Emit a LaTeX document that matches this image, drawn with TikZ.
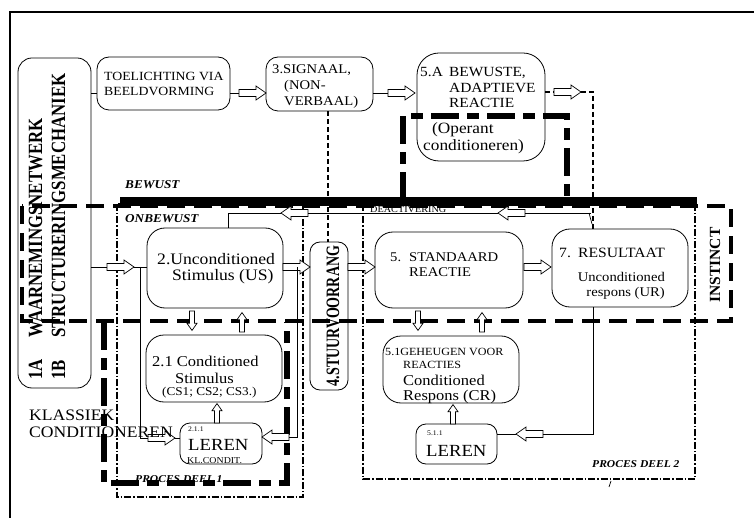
\documentclass[tikz,border=0pt]{standalone}
\usepackage{fontspec}
\setmainfont{Liberation Serif}[FakeStretch=1.1]
\newfontfamily\rotfont{Liberation Serif}
\newcommand{\fsz}[1]{\fontsize{#1}{#1}\selectfont}
\begin{document}
\begin{tikzpicture}[x=1pt,y=-1pt,
  box/.style={draw, line width=0.8pt, inner sep=0pt, rounded corners=#1},
  box/.default=16pt,
  txt/.style={inner sep=0pt, anchor=base west},
  rtxt/.style={inner sep=0pt, anchor=base east},
  vtxt/.style={inner sep=0pt, anchor=base west, rotate=90},
  conn/.style={line width=0.7pt},
  thindash/.style={line width=1.3pt, dash pattern=on 5pt off 3pt},
  dashdot/.style={line width=1.1pt, dash pattern=on 7pt off 2pt on 1.5pt off 2pt},
  bigdash/.style={line width=4pt, dash pattern=on 18pt off 9pt},
  heavydash/.style={line width=6pt, dash pattern=on 28pt off 8pt on 12pt off 8pt},
  hollow/.pic={
    \draw[line width=0.7pt, fill=white]
      (0,-3.5) -- (17,-3.5) -- (17,-7) -- (27,0) -- (17,7) -- (17,3.5) -- (0,3.5) -- cycle;
    \coordinate (-tail) at (0,0);
    \coordinate (-tip) at (27,0);
  },
  small/.style={scale=0.72},
]
\useasboundingbox (0,0) rectangle (754,518);

% outer frame
\draw[line width=2pt] (10,518) -- (10,12) -- (754,12);

% boxes
\node[box=14pt, minimum width=73pt, minimum height=330pt] (L) at (54.5,223) {};
\node[box=12pt, minimum width=133pt, minimum height=53pt] (B2) at (163.5,83.5) {};
\node[box=12pt, minimum width=107pt, minimum height=54pt] (B3) at (319.5,84) {};
\node[box=22pt, minimum width=128pt, minimum height=108pt] (B5A) at (481,107) {};
\node[box=18pt, minimum width=136pt, minimum height=80pt] (US) at (215,268) {};
\node[box=18pt, minimum width=136pt, minimum height=67pt] (CS) at (214,368.5) {};
\node[box=10pt, minimum width=82pt, minimum height=41pt] (LR1) at (221,443.5) {};
\node[box=10pt, minimum width=38pt, minimum height=148pt] (ST) at (329,316) {};
\node[box=18pt, minimum width=148pt, minimum height=76pt] (STD) at (449,270) {};
\node[box=18pt, minimum width=136pt, minimum height=78pt] (RES) at (620,268) {};
\node[box=18pt, minimum width=136pt, minimum height=67pt] (GEH) at (451,369.5) {};
\node[box=10pt, minimum width=81pt, minimum height=40pt] (LR2) at (456.5,444) {};

% process areas
\draw[dashdot] (117,204) rectangle (303,497);
\draw[dashdot] (363,204) rectangle (695,479);
\draw[conn] (589,213) -- (592,224);
\draw[conn] (611,481) -- (609,487);

% instinct area and the conscious / unconscious border
\draw[bigdash] (22,206) rectangle (731,321);
\fill (120,197) rectangle (697,206);

% heavy dashed groupings
\draw[heavydash] (104,322) -- (104,483) -- (287,483) -- (287,322);
\draw[heavydash] (403,200) -- (403,116) -- (567,116) -- (567,200);

% signal to priority
\draw[thindash] (328,0 |- B3.south) -- (328,0 |- ST.north);

% top row
\draw[conn] (L.east |- 0,93) -- (B2.west |- 0,93);
\pic (a2) at (239,93) {hollow};
\draw[conn] (B2.east |- a2-tail) -- (a2-tail);
\pic (a3) at (388,93) {hollow};
\draw[conn] (B3.east |- a3-tail) -- (a3-tail);
\pic (a4) at (554,92) {hollow};
\draw[thindash] (B5A.east |- a4-tail) -- (a4-tail);
\draw[thindash] (a4-tip) -- (593,0 |- a4-tip) -- (593,0 |- RES.north);

% deactivation feedback
\pic[rotate=180] (a11) at (525,213) {hollow};
\pic[rotate=180] (a12) at (308,213) {hollow};
\draw[conn] (591,213) -- (a11-tail);
\draw[conn] (a11-tip) -- (a12-tail);
\draw[conn] (a12-tip) -- (228,213) -- (228,0 |- US.north);

% perception to unconditioned stimulus
\pic (a13) at (107,267) {hollow};
\draw[conn] (L.east |- a13-tail) -- (a13-tail);
\draw[conn] (a13-tip) -- (US.west |- a13-tip);
\pic (a14) at (148,438) {hollow};
\draw[conn] (140,267) -- (140,438) -- (a14-tail);
\draw[conn] (a14-tip) -- (LR1.west |- a14-tip);

% main chain
\pic (a15) at (283,267) {hollow};
\pic[rotate=180] (a16) at (289,437) {hollow};
\draw[conn] (297,267) -- (297,437) -- (a16-tail);
\pic (a17) at (348,267) {hollow};
\pic (a18) at (524,267) {hollow};

% result back to learning
\pic[rotate=180] (a19) at (543,434) {hollow};
\draw[conn] (593,0 |- RES.south) -- (593,434) -- (a19-tail);
\draw[conn] (a19-tip) -- (LR2.east |- a19-tip);

% small vertical arrows
\pic[rotate=-90, small] (d1) at (192,311) {hollow};
\pic[rotate=90, small] (u1) at (242,332) {hollow};
\pic[rotate=90, small] (u2) at (217,423) {hollow};
\pic[rotate=-90, small] (d2) at (418,311) {hollow};
\pic[rotate=90, small] (u3) at (482,332) {hollow};
\pic[rotate=90, small] (u4) at (453,424) {hollow};

% texts
\node[vtxt, font=\rotfont\fsz{16.8}\bfseries] (t1a) at (42,380) {\scalebox{1}[1.2]{1A}};
\node[vtxt, font=\rotfont\fsz{16.8}\bfseries] (t1an) at (42,338) {\scalebox{1}[1.2]{WAARNEMINGSNETWERK}};
\node[vtxt, font=\rotfont\fsz{16.8}\bfseries] (t1b) at (65,380) {\scalebox{1}[1.2]{1B}};
\node[vtxt, font=\rotfont\fsz{16.8}\bfseries] (t1bn) at (65,338) {\scalebox{1}[1.2]{STRUCTURERINGSMECHANIEK}};

\node[txt, font=\fsz{12.5}] (tb2a) at (104,81) {TOELICHTING VIA};
\node[txt, font=\fsz{12.5}] (tb2b) at (104,96) {BEELDVORMING};
\node[txt, font=\fsz{13.3}] (tb3a) at (272,74) {3.SIGNAAL,};
\node[txt, font=\fsz{13.3}] (tb3b) at (284,90) {(NON-};
\node[txt, font=\fsz{13.3}] (tb3c) at (284,106) {VERBAAL)};
\node[txt, font=\fsz{14}] (tb5n) at (420,77) {5.A};
\node[txt, font=\fsz{14}] (tb5a) at (449,77) {BEWUSTE,};
\node[txt, font=\fsz{14}] (tb5b) at (449,93) {ADAPTIEVE};
\node[txt, font=\fsz{14}] (tb5c) at (449,108) {REACTIE};
\node[txt, font=\fsz{15.7}] (tb5d) at (432,134) {(Operant};
\node[txt, font=\fsz{15.7}] (tb5e) at (423,151) {conditioneren)};

\node[txt, font=\fsz{12}\bfseries\itshape] (tbw) at (125,189) {BEWUST};
\node[txt, font=\fsz{12}\bfseries\itshape] (tonb) at (125,223) {ONBEWUST};
\node[txt, font=\fsz{9.3}] (tdeac) at (370,213) {DEACTIVERING};

\node[txt, font=\fsz{16}] (tusa) at (157,265) {2.Unconditioned};
\node[txt, font=\fsz{16}] (tusb) at (172,281) {Stimulus (US)};
\node[txt, font=\fsz{15}] (tcsa) at (152,366) {2.1 Conditioned};
\node[txt, font=\fsz{15}] (tcsb) at (175,383) {Stimulus};
\node[txt, font=\fsz{12}] (tcsc) at (162,395) {(CS1; CS2; CS3.)};
\node[txt, font=\fsz{7}] (tl1a) at (188,431) {2.1.1};
\node[txt, font=\fsz{17}] (tl1b) at (188,450) {LEREN};
\node[txt, font=\fsz{9}] (tl1c) at (187,463) {KL.CONDIT.};

\node[inner sep=0pt, rotate=90, font=\rotfont\fsz{14}\bfseries] (tst) at (333,316) {\scalebox{1}[1.35]{4.STUURVOORRANG}};

\node[txt, font=\fsz{13.3}] (tsda) at (390,262) {5.};
\node[txt, font=\fsz{13.3}] (tsdb) at (409,262) {STANDAARD};
\node[txt, font=\fsz{13.3}] (tsdc) at (409,277) {REACTIE};

\node[txt, font=\fsz{14.2}] (trsa) at (559,258) {7.};
\node[rtxt, font=\fsz{14.2}] (trsb) at (665,258) {RESULTAAT};
\node[rtxt, font=\fsz{13.3}] (trsc) at (665,282) {Unconditioned};
\node[rtxt, font=\fsz{13.3}] (trsd) at (665,296) {respons (UR)};

\node[txt, font=\fsz{11}] (tgha) at (385,355) {5.1GEHEUGEN VOOR};
\node[txt, font=\fsz{11}] (tghb) at (403,368) {REACTIES};
\node[txt, font=\fsz{15}] (tghc) at (403,385) {Conditioned};
\node[txt, font=\fsz{15}] (tghd) at (403,400) {Respons (CR)};
\node[txt, font=\fsz{7}] (tl2a) at (427,435) {5.1.1};
\node[txt, font=\fsz{17}] (tl2b) at (426,456) {LEREN};

\node[txt, font=\fsz{10.5}\bfseries\itshape] (tpd2) at (592,467) {PROCES DEEL 2};
\node[txt, font=\fsz{10.5}\bfseries\itshape] (tpd1) at (135,482) {PROCES DEEL 1};
\node[txt, font=\fsz{16}] (tkla) at (29,420) {KLASSIEK};
\node[txt, font=\fsz{16}] (tklb) at (29,437) {CONDITIONEREN};

\node[inner sep=0pt, rotate=90, font=\rotfont\fsz{15.5}\bfseries] (tins) at (715,265) {INSTINCT};
\end{tikzpicture}
\end{document}
